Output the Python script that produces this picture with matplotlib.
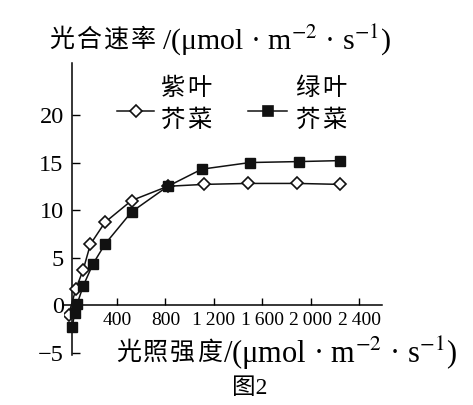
import matplotlib
matplotlib.use('Agg')
import matplotlib.pyplot as plt

plt.rcParams['font.family'] = ['Liberation Serif', 'Noto Sans CJK SC']
plt.rcParams['mathtext.fontset'] = 'stix'

# light intensity / photosynthesis rate
x_purple = [0, 60, 120, 180, 300, 520, 820, 1120, 1480, 1890, 2240]
y_purple = [-1.0, 1.7, 3.7, 6.4, 8.7, 11.0, 12.5, 12.7, 12.8, 12.8, 12.7]
x_green = [30, 50, 70, 120, 200, 300, 520, 820, 1100, 1500, 1900, 2240]
y_green = [-2.3, -0.8, 0.1, 2.0, 4.3, 6.4, 9.8, 12.5, 14.3, 15.0, 15.1, 15.2]

xticks = [400, 800, 1200, 1600, 2000, 2400]
xtick_labels = ['400', '800', '1\u2009200', '1\u2009600', '2\u2009000', '2\u2009400']
yticks = [-5, 0, 5, 10, 15, 20]
ytick_labels = ['\u22125', '0', '5', '10', '15', '20']

W, H = 473, 405
fig = plt.figure(figsize=(W / 100, H / 100), dpi=100)
ax = fig.add_axes([0.1349, 0.1225, 0.6727, 0.7225])


def px(x, y):
    # pixel position (from top left) -> figure fraction
    return x / W, 1 - y / H


def cjk(chars, x0, y, step, size):
    # draw chinese characters one by one, the print has wide spacing
    for i, c in enumerate(chars):
        fig.text(*px(x0 + i * step, y), c, fontsize=size, ha='center',
                 va='center', family='Noto Sans CJK SC')


ax.plot(x_purple, y_purple, color='#111111', lw=1.1, marker='D', ms=6.5,
        mfc='white', mec='#111111', mew=1.2, zorder=3)
ax.plot(x_green, y_green, color='#111111', lw=1.1, marker='s', ms=6.5,
        mfc='#111111', mec='#111111', zorder=4)

ax.set_xlim(-40, 2590)
ax.set_ylim(-5.3, 25.5)

for s in ['top', 'right']:
    ax.spines[s].set_visible(False)
ax.spines['left'].set_position(('data', 28))
ax.spines['bottom'].set_position(('data', 0))
ax.spines['left'].set_linewidth(1.1)
ax.spines['bottom'].set_linewidth(1.1)

ax.set_xticks(xticks)
ax.set_xticklabels(xtick_labels, fontsize=14)
ax.set_yticks(yticks)
ax.set_yticklabels(ytick_labels, fontsize=17.5)
ax.tick_params(axis='x', direction='in', length=5, width=1, pad=5)
ax.tick_params(axis='y', direction='in', length=6, width=1, pad=6)

unit = '/(μmol · m$^{-2}$ · s$^{-1}$)'

# y title
cjk('光合速率', 62, 40, 27, 18)
fig.text(*px(162, 40), unit, fontsize=21.5, ha='left', va='center')

# x title
cjk('光照强度', 129, 353, 26.8, 18)
fig.text(*px(223, 353), unit, fontsize=22, ha='left', va='center')

fig.text(*px(250, 388), '图2', fontsize=17, ha='center', va='center')

# legend drawn by hand
ly = 111
for (xa, xb), mk, fc in [((117, 154), 'D', 'white'), ((248, 287), 's', '#111111')]:
    fig.add_artist(plt.Line2D([xa / W, xb / W], [1 - ly / H] * 2,
                              color='#111111', lw=1.1))
    fig.add_artist(plt.Line2D([(xa + xb) / 2 / W], [1 - ly / H], marker=mk,
                              ms=6.5, mfc=fc, mec='#111111', mew=1.2))
cjk('紫叶', 172, 88, 27, 17.5)
cjk('芥菜', 172, 120, 27, 17.5)
cjk('绿叶', 307, 88, 27, 17.5)
cjk('芥菜', 307, 120, 27, 17.5)

fig.savefig('out.png', dpi=100)
